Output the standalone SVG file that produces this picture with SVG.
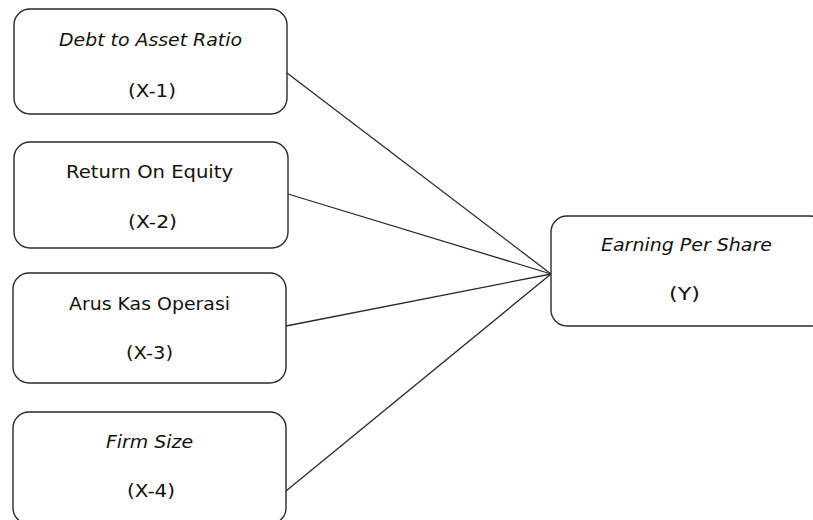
<svg xmlns="http://www.w3.org/2000/svg" width="813" height="520" viewBox="0 0 813 520">
<style>
.box{fill:#fff;stroke:#2a2a2a;stroke-width:1.4}
.t{font-family:"DejaVu Sans",Verdana,sans-serif;font-size:18px;fill:#111;text-anchor:middle}
.i{font-style:italic}
.c{stroke:#2a2a2a;stroke-width:1.3;fill:none}
</style>
<rect width="813" height="520" fill="#fff"/>
<g id="connectors">
<line class="c" x1="287" y1="73" x2="551" y2="274"/>
<line class="c" x1="288" y1="194" x2="551" y2="274"/>
<line class="c" x1="286" y1="326" x2="551" y2="274"/>
<line class="c" x1="286" y1="491" x2="551" y2="274"/>
</g>
<g id="x1">
<rect class="box" x="14" y="9" width="273" height="105" rx="16"/>
<text class="t i" x="150.5" y="46" textLength="183" lengthAdjust="spacingAndGlyphs">Debt to Asset Ratio</text>
<text class="t" x="152" y="97" textLength="48" lengthAdjust="spacingAndGlyphs">(X-1)</text>
</g>
<g id="x2">
<rect class="box" x="14" y="142" width="274" height="106" rx="16"/>
<text class="t" x="149.5" y="178" textLength="167" lengthAdjust="spacingAndGlyphs">Return On Equity</text>
<text class="t" x="152.5" y="228" textLength="49" lengthAdjust="spacingAndGlyphs">(X-2)</text>
</g>
<g id="x3">
<rect class="box" x="13" y="273" width="273" height="110" rx="16"/>
<text class="t" x="149.5" y="310" textLength="161" lengthAdjust="spacingAndGlyphs">Arus Kas Operasi</text>
<text class="t" x="149.5" y="359" textLength="47" lengthAdjust="spacingAndGlyphs">(X-3)</text>
</g>
<g id="x4">
<rect class="box" x="13" y="412" width="273" height="112" rx="16"/>
<text class="t i" x="149.5" y="448" textLength="87" lengthAdjust="spacingAndGlyphs">Firm Size</text>
<text class="t" x="151" y="497" textLength="48" lengthAdjust="spacingAndGlyphs">(X-4)</text>
</g>
<g id="y">
<rect class="box" x="551" y="216" width="275" height="110" rx="16"/>
<text class="t i" x="686.5" y="251" textLength="171" lengthAdjust="spacingAndGlyphs">Earning Per Share</text>
<text class="t" x="684.5" y="300" textLength="31" lengthAdjust="spacingAndGlyphs">(Y)</text>
</g>
</svg>
